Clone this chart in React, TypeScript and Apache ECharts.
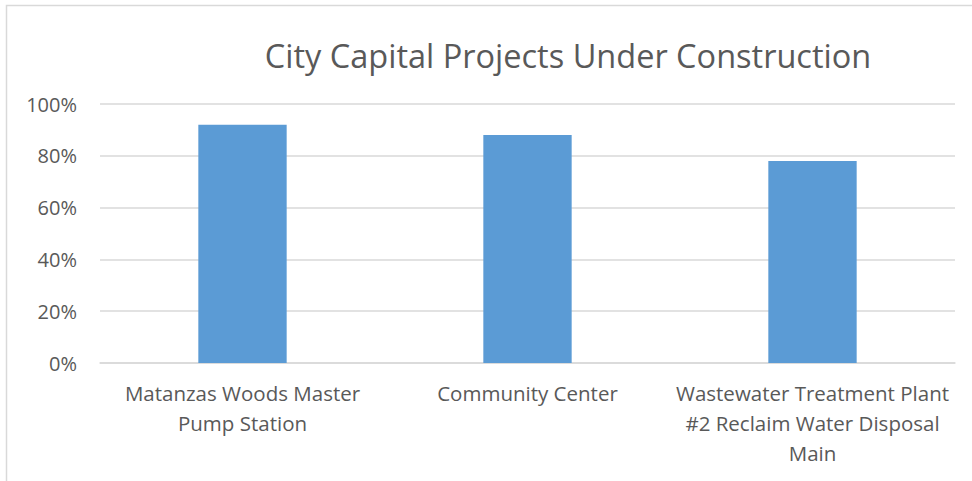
import React, { useEffect, useRef } from "react";
import * as echarts from "echarts";

const title = "City Capital Projects Under Construction";
const categories = [
  "Matanzas Woods Master\nPump Station",
  "Community Center",
  "Wastewater Treatment Plant\n#2 Reclaim Water Disposal\nMain",
];
const completion = [0.92, 0.88, 0.78];
const yTicks = { min: 0, max: 1, interval: 0.2 };

const FONT = "'Open Sans', sans-serif";
const TEXT = "#595959";
const GRID = "#D9D9D9";

export default function App() {
  const ref = useRef<HTMLDivElement>(null);
  useEffect(() => {
    if (!ref.current) return;
    const chart = echarts.init(ref.current, null, { renderer: "svg" });
    chart.setOption({
      animation: false,
      backgroundColor: "#ffffff",
      title: {
        text: title,
        left: 563,
        textAlign: "center",
        top: 34,
        textStyle: { fontFamily: FONT, fontSize: 32.5, fontWeight: "normal", color: TEXT },
      },
      graphic: [
        {
          type: "rect",
          shape: { x: 6.5, y: 5.5, width: 1000, height: 600 },
          style: { fill: "none", stroke: GRID, lineWidth: 1.5 },
          silent: true,
        },
      ],
      grid: { left: 100, right: 17, top: 104, bottom: 118, containLabel: false },
      xAxis: {
        type: "category",
        data: categories,
        axisLine: { show: true, lineStyle: { color: GRID, width: 1.5 } },
        axisTick: { show: false },
        axisLabel: {
          interval: 0,
          margin: 15,
          color: TEXT,
          fontFamily: FONT,
          fontSize: 20.5,
          lineHeight: 30,
        },
      },
      yAxis: {
        type: "value",
        min: yTicks.min,
        max: yTicks.max,
        interval: yTicks.interval,
        axisLine: { show: false },
        axisTick: { show: false },
        splitLine: { lineStyle: { color: GRID, width: 1.5 } },
        axisLabel: {
          margin: 23,
          color: TEXT,
          fontFamily: FONT,
          fontSize: 20,
          formatter: (v: number) => Math.round(v * 100) + "%",
        },
      },
      series: [
        {
          type: "bar",
          data: completion,
          barWidth: "31%",
          itemStyle: { color: "#5B9BD5" },
        },
      ],
    });
    return () => chart.dispose();
  }, []);
  return (
    <div
      ref={ref}
      style={{ position: "absolute", left: 0, top: 0, width: 972, height: 481 }}
    />
  );
}
